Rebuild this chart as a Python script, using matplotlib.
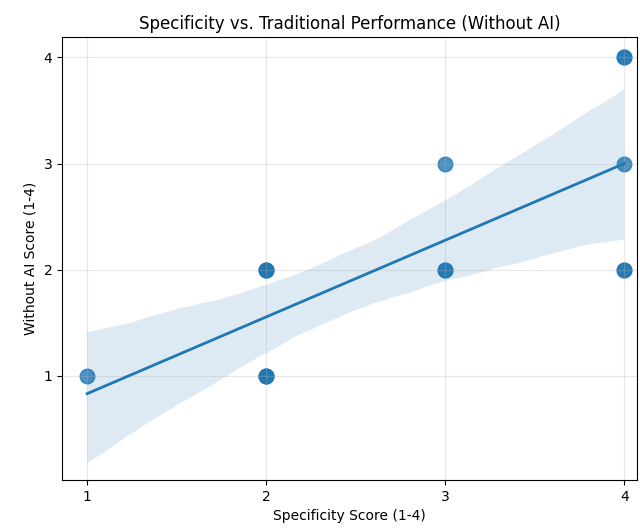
import numpy as np
import matplotlib
matplotlib.use("Agg")
import matplotlib.pyplot as plt
import seaborn as sns

# responses (duplicates show up as darker dots)
specificity = [1, 2, 2, 2, 2, 2, 2, 3, 3, 3, 4, 4, 4, 4, 4]
without_ai = [1, 1, 1, 1, 2, 2, 2, 2, 2, 3, 2, 2, 3, 4, 4]
ticks = [1, 2, 3, 4]

fig, ax = plt.subplots(figsize=(6.4, 5.31), dpi=100)
sns.regplot(x=specificity, y=without_ai, ax=ax, seed=1,
            scatter_kws={"s": 110, "alpha": 0.8}, line_kws={"linewidth": 2})

ax.set_title("Specificity vs. Traditional Performance (Without AI)")
ax.set_xlabel("Specificity Score (1-4)")
ax.set_ylabel("Without AI Score (1-4)")
ax.set_xticks(ticks)
ax.set_yticks(ticks)
ax.set_xlim(0.86, 4.07)
ax.set_ylim(0.02, 4.19)
ax.grid(True, alpha=0.3)

plt.subplots_adjust(left=0.097, right=0.995, top=0.93, bottom=0.096)
plt.savefig("out.png")
